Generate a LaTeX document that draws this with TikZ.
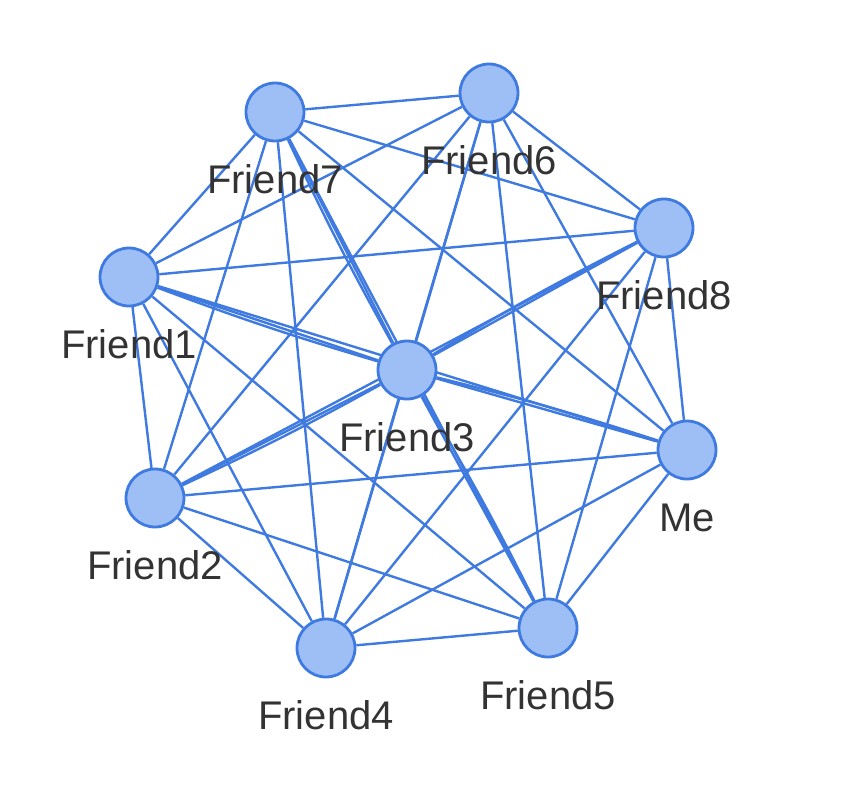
\documentclass[tikz,border=0pt]{standalone}
\usepackage{fontspec}
\setmainfont{Liberation Sans}
\usetikzlibrary{backgrounds}
\definecolor{edgeblue}{HTML}{3F7AE0}
\definecolor{nodefill}{HTML}{9DBFF5}
\definecolor{labelgray}{HTML}{333333}
\tikzset{
    person/.style={circle, draw=edgeblue, fill=nodefill, line width=1.4pt, minimum size=29pt, inner sep=0pt},
    tie/.style={draw=edgeblue, line width=1.2pt},
    lbl/.style={text=labelgray, font=\fontsize{20}{24}\selectfont, anchor=base, inner sep=0pt}
}
\begin{document}
\begin{tikzpicture}[x=0.5pt,y=-0.5pt]
        \useasboundingbox (0,0) rectangle (852,788);
        % people
        \node[person] (f7) at (275,112) {};
        \node[person] (f6) at (489,93) {};
        \node[person] (f8) at (664,228) {};
        \node[person] (f1) at (129,277) {};
        \node[person] (f3) at (407,370) {};
        \node[person] (me) at (687,450) {};
        \node[person] (f2) at (155,498) {};
        \node[person] (f4) at (326,648) {};
        \node[person] (f5) at (548,628) {};
        % everyone knows everyone
        \begin{pgfonlayer}{background}
            \foreach \a [count=\i] in {f7,f6,f8,f1,f3,me,f2,f4,f5}{
                \foreach \b [count=\j] in {f7,f6,f8,f1,f3,me,f2,f4,f5}{
                    \ifnum\j>\i \draw[tie] (\a) -- (\b); \fi
                }
            }
            % second tie back to Friend3
            \foreach \b in {f7,f1,me,f5,f2,f8}
                \draw[tie] (f3) to[bend left=2] (\b);
        \end{pgfonlayer}
        % names
        \node[lbl] (l7) at (275,193) {Friend7};
        \node[lbl] (l6) at (489,174) {Friend6};
        \node[lbl] (l8) at (664,309) {Friend8};
        \node[lbl] (l1) at (129,358) {Friend1};
        \node[lbl] (l3) at (407,451) {Friend3};
        \node[lbl] (lme) at (687,531) {Me};
        \node[lbl] (l2) at (155,579) {Friend2};
        \node[lbl] (l4) at (326,729) {Friend4};
        \node[lbl] (l5) at (548,709) {Friend5};
\end{tikzpicture}
\end{document}
